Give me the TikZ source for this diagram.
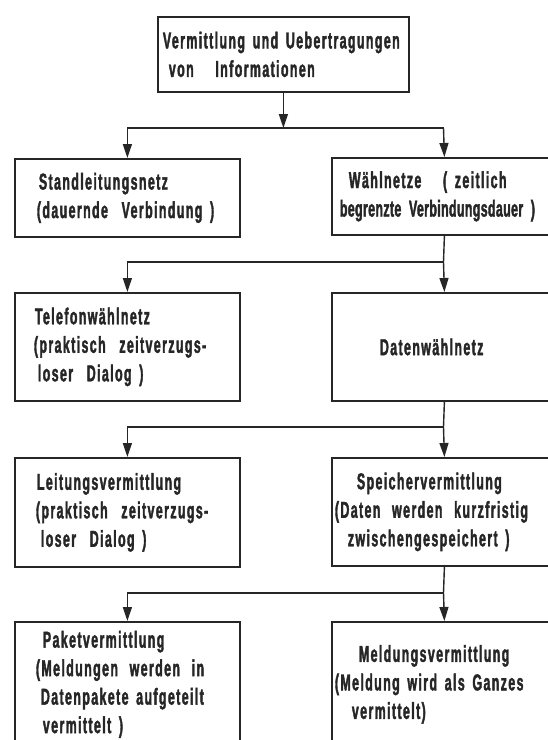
\documentclass[tikz,border=0pt]{standalone}
\usepackage{fontspec}
\newfontfamily\kastenfont{Liberation Sans}[FakeStretch=0.54, LetterSpace=6, FakeBold=1.6]
\usetikzlibrary{arrows.meta}
\colorlet{tinte}{black!85}

\begin{document}
\begin{tikzpicture}[x=1pt,y=-1pt,
  kasten/.style={draw=tinte, text=tinte, line width=1.8pt, rectangle, anchor=north west,
    inner sep=0pt, minimum width=225pt, text width=225pt, align=left,
    font=\kastenfont\bfseries\fontsize{23}{28.5}\selectfont},
  pfeil/.style={draw=tinte, line width=1.4pt, -{Triangle[length=14pt,width=9pt]}},
  linie/.style={draw=tinte, line width=1.4pt}]
\useasboundingbox (0,0) rectangle (548,740);
\clip (0,0) rectangle (548,740);

\node[kasten, minimum width=251pt, text width=251pt, minimum height=75pt] (vermittlung) at (157,16)
  {\hspace*{5pt}Vermittlung und Uebertragungen\\\hspace*{11pt}von\hspace{14pt} Informationen};

\node[kasten, minimum height=78pt] (stand) at (14,158)
  {\hspace*{24pt}Standleitungsnetz\\\hspace*{22pt}(dauernde\hspace{6pt} Verbindung )};
\node[kasten, minimum height=77pt] (waehl) at (331,157)
  {\mbox{\hspace*{17pt}Wählnetze\hspace{14pt} ( zeitlich}\\\mbox{\hspace*{8pt}\addfontfeature{LetterSpace=1.5}begrenzte Verbindungsdauer )}};

\node[kasten, minimum height=108pt] (telefon) at (14,292)
  {\hspace*{20pt}Telefonwählnetz\\\hspace*{19pt}(praktisch\hspace{6pt} zeitverzugs-\\\hspace*{23pt}loser\hspace{6pt} Dialog )};
\node[kasten, minimum height=108pt] (daten) at (331,292)
  {\hspace*{48pt}Datenwählnetz};

\node[kasten, minimum height=109pt] (leitung) at (14,457)
  {\hspace*{22pt}Leitungsvermittlung\\\hspace*{21pt}(praktisch\hspace{6pt} zeitverzugs-\\\hspace*{26pt}loser\hspace{6pt} Dialog )};
\node[kasten, minimum height=108pt] (speicher) at (331,457)
  {\hspace*{25pt}Speichervermittlung\\\mbox{\hspace*{3pt}(Daten\hspace{4pt} werden\hspace{4pt} kurzfristig}\\\hspace*{16pt}zwischengespeichert )};

\node[kasten, minimum height=125pt] (paket) at (14,621)
  {\hspace*{28pt}Paketvermittlung\\\hspace*{21pt}(Meldungen\hspace{4pt} werden\hspace{4pt} in\\\hspace*{26pt}Datenpakete aufgeteilt\\\hspace*{28pt}vermittelt )};
\node[kasten, minimum height=125pt] (meldung) at (331,621)
  {\hspace*{27pt}Meldungsvermittlung\\\mbox{\hspace*{3pt}(Meldung wird als Ganzes}\\\hspace*{20pt}vermittelt)};

% Verzweigungen
\coordinate (gabel1) at (443.5,128);
\coordinate (gabel2) at (443.5,262);
\coordinate (gabel3) at (443.5,427);
\coordinate (gabel4) at (443.5,593);

\draw[pfeil] (vermittlung.south) -- (vermittlung.south |- gabel1);
\draw[pfeil] (gabel1) -| (stand.north);
\draw[pfeil] (gabel1) -- (waehl.north);

\draw[linie] (waehl.south) -- (gabel2);
\draw[pfeil] (gabel2) -| (telefon.north);
\draw[pfeil] (gabel2) -- (daten.north);

\draw[linie] (daten.south) -- (gabel3);
\draw[pfeil] (gabel3) -| (leitung.north);
\draw[pfeil] (gabel3) -- (speicher.north);

\draw[linie] (speicher.south) -- (gabel4);
\draw[pfeil] (gabel4) -| (paket.north);
\draw[pfeil] (gabel4) -- (meldung.north);
\end{tikzpicture}
\end{document}
